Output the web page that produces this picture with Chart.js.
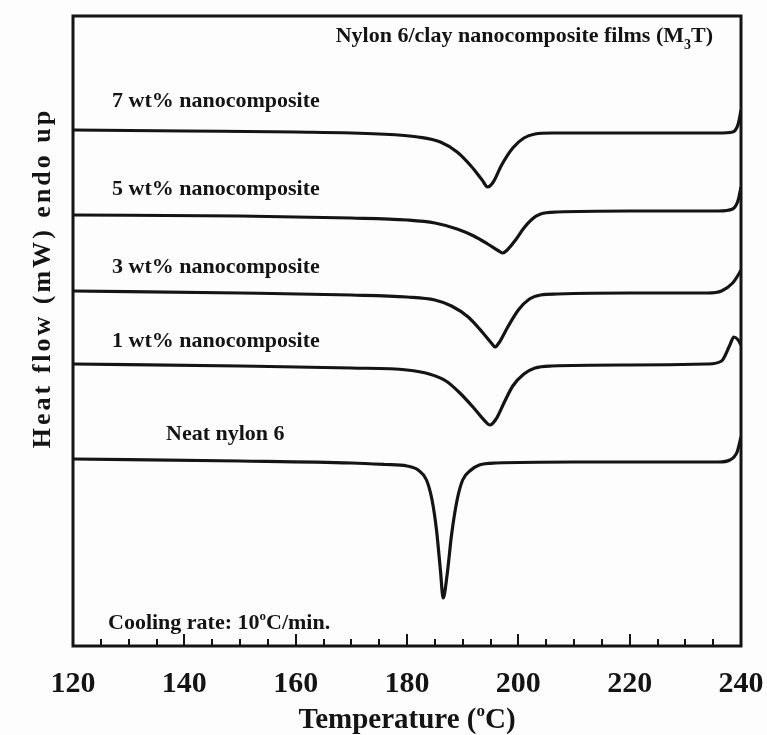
<!DOCTYPE html>
<html>
<head>
<meta charset="utf-8">
<script src="https://cdn.jsdelivr.net/npm/chart.js@4.4.1/dist/chart.umd.min.js"></script>
<style>
  body { margin: 0; background: #fdfdfd; }
  canvas { display: block; }
</style>
</head>
<body>
<canvas id="dsc" width="767" height="735"></canvas>
<script>
// DSC cooling scans, nylon 6 / clay films (heat flow, offset per curve)
const temp7 = [120, 140, 160, 175, 182, 186, 189, 191.5, 193.5, 194.5, 195.5, 197, 199, 201, 203, 206, 220, 236, 238.5, 239.5, 240]
const flow7 = [51.6, 51.5, 51.4, 51.2, 50.9, 50.4, 49.4, 48.0, 46.6, 45.9, 46.4, 48.1, 49.8, 50.8, 51.2, 51.3, 51.3, 51.3, 51.4, 52.2, 53.6]

const temp5 = [120, 150, 170, 180, 185, 189, 192, 194.5, 196.5, 197.2, 198, 199.5, 201, 202.5, 204, 207, 220, 236, 238.5, 239.5, 240]
const flow5 = [43.1, 43.0, 42.8, 42.6, 42.3, 41.7, 41.0, 40.2, 39.5, 39.3, 39.6, 40.6, 41.8, 42.7, 43.2, 43.4, 43.5, 43.5, 43.7, 44.6, 45.9]

const temp3 = [120, 150, 170, 180, 185, 188, 191, 193.5, 195.3, 195.8, 196.5, 198, 200, 202, 204, 207, 220, 234, 236.5, 238.5, 239.5, 240]
const flow3 = [35.5, 35.3, 35.1, 34.9, 34.6, 34.0, 32.9, 31.4, 30.2, 29.9, 30.3, 31.8, 33.6, 34.7, 35.1, 35.2, 35.3, 35.3, 35.5, 36.3, 37.1, 37.6]

const temp1 = [120, 150, 170, 180, 184, 187, 189.5, 192, 194, 194.9, 196, 197.5, 199, 201, 203, 206, 220, 234, 236.5, 238, 238.7, 239.5, 240]
const flow1 = [28.2, 28.0, 27.8, 27.6, 27.2, 26.5, 25.3, 23.8, 22.5, 22.1, 22.7, 24.4, 26.0, 27.2, 27.8, 28.0, 28.1, 28.2, 28.5, 30.1, 30.9, 30.6, 30.1]

const tempNeat = [120, 150, 170, 176, 180, 182, 183.5, 184.5, 185.3, 186, 186.5, 187.2, 188, 189, 190, 191.5, 193, 196, 210, 236, 238, 239.3, 240]
const flowNeat = [18.7, 18.5, 18.3, 18.15, 18.0, 17.6, 16.6, 14.6, 11.6, 7.6, 4.8, 7.1, 11.1, 14.6, 16.6, 17.6, 18.1, 18.3, 18.4, 18.4, 18.6, 19.4, 20.9]

const tempTicks = [120, 140, 160, 180, 200, 220, 240]
const minorStep = 5

const serif = "'Liberation Serif', 'Times New Roman', serif"
const ink = "#141414"

function puntos(xs, ys) {
    return xs.map((x, i) => ({ x: x, y: ys[i] }))
}

function serie(label, xs, ys) {
    return {
        label: label,
        data: puntos(xs, ys),
        borderColor: ink,
        borderWidth: 3.2,
        pointRadius: 0,
        fill: false,
        cubicInterpolationMode: "monotone"
    }
}

// text pieces with super/subscripts: [texto, size, dy]
function textoPartes(ctx, x, y, partes, align) {
    let total = 0
    partes.forEach(p => {
        ctx.font = "bold " + p[1] + "px " + serif
        total += ctx.measureText(p[0]).width
    })
    let cx = x
    if (align === "right") cx = x - total
    if (align === "center") cx = x - total / 2
    ctx.textAlign = "left"
    ctx.textBaseline = "alphabetic"
    partes.forEach(p => {
        ctx.font = "bold " + p[1] + "px " + serif
        ctx.fillText(p[0], cx, y + (p[2] || 0))
        cx += ctx.measureText(p[0]).width
    })
}

const marco = {
    id: "marco",
    beforeDraw(chart) {
        const ctx = chart.ctx
        ctx.save()
        ctx.fillStyle = "#fdfdfd"
        ctx.fillRect(0, 0, chart.width, chart.height)
        ctx.restore()
    },
    afterDraw(chart) {
        const ctx = chart.ctx
        const a = chart.chartArea
        const xs = chart.scales.x
        ctx.save()
        ctx.strokeStyle = ink
        ctx.lineWidth = 3
        ctx.strokeRect(a.left, a.top, a.right - a.left, a.bottom - a.top)

        // inward ticks every 5 C, longer at the labelled ones
        ctx.lineWidth = 2
        for (let t = xs.min + minorStep; t < xs.max; t += minorStep) {
            const px = Math.round(xs.getPixelForValue(t))
            const largo = tempTicks.includes(t) ? 12 : 7
            ctx.beginPath()
            ctx.moveTo(px, a.bottom)
            ctx.lineTo(px, a.bottom - largo)
            ctx.stroke()
        }

        ctx.fillStyle = ink
        textoPartes(ctx, 713, 42, [["Nylon 6/clay nanocomposite films (M", 22], ["3", 14, 7], ["T)", 22]], "right")
        textoPartes(ctx, 112, 107, [["7 wt% nanocomposite", 22]], "left")
        textoPartes(ctx, 112, 195, [["5 wt% nanocomposite", 22]], "left")
        textoPartes(ctx, 112, 273, [["3 wt% nanocomposite", 22]], "left")
        textoPartes(ctx, 112, 347, [["1 wt% nanocomposite", 22]], "left")
        textoPartes(ctx, 166, 440, [["Neat nylon 6", 22]], "left")
        textoPartes(ctx, 108, 629, [["Cooling rate: 10", 22], ["o", 13, -9], ["C/min.", 22]], "left")

        const mid = (a.left + a.right) / 2
        textoPartes(ctx, mid, 728, [["Temperature (", 29], ["o", 17, -12], ["C)", 29]], "center")

        // y title, rotated
        ctx.translate(50, 278)
        ctx.rotate(-Math.PI / 2)
        ctx.font = "bold 26px " + serif
        ctx.letterSpacing = "3px"
        ctx.textAlign = "center"
        ctx.textBaseline = "alphabetic"
        ctx.fillText("Heat flow (mW) endo up", 0, 0)
        ctx.restore()
    }
}

const ctx = document.getElementById("dsc").getContext("2d")

const grafico = new Chart(ctx, {
    type: "line",
    data: {
        datasets: [
            serie("7 wt% nanocomposite", temp7, flow7),
            serie("5 wt% nanocomposite", temp5, flow5),
            serie("3 wt% nanocomposite", temp3, flow3),
            serie("1 wt% nanocomposite", temp1, flow1),
            serie("Neat nylon 6", tempNeat, flowNeat)
        ]
    },
    options: {
        responsive: false,
        animation: false,
        layout: { padding: { left: 73, right: 26, top: 16, bottom: 13 } },
        plugins: {
            legend: { display: false },
            tooltip: { enabled: false }
        },
        scales: {
            x: {
                type: "linear",
                min: 120,
                max: 240,
                afterBuildTicks: (scale) => {
                    scale.ticks = tempTicks.map(v => ({ value: v }))
                },
                // the end labels may hang past the frame
                afterFit: (scale) => {
                    scale.paddingLeft = 0
                    scale.paddingRight = 0
                },
                grid: { display: false, drawTicks: false },
                border: { display: false },
                ticks: {
                    color: ink,
                    padding: 20,
                    maxRotation: 0,
                    autoSkip: false,
                    font: { family: serif, size: 30, weight: "bold" }
                }
            },
            y: {
                display: false,
                min: 0,
                max: 63
            }
        }
    },
    plugins: [marco]
})
</script>
</body>
</html>
